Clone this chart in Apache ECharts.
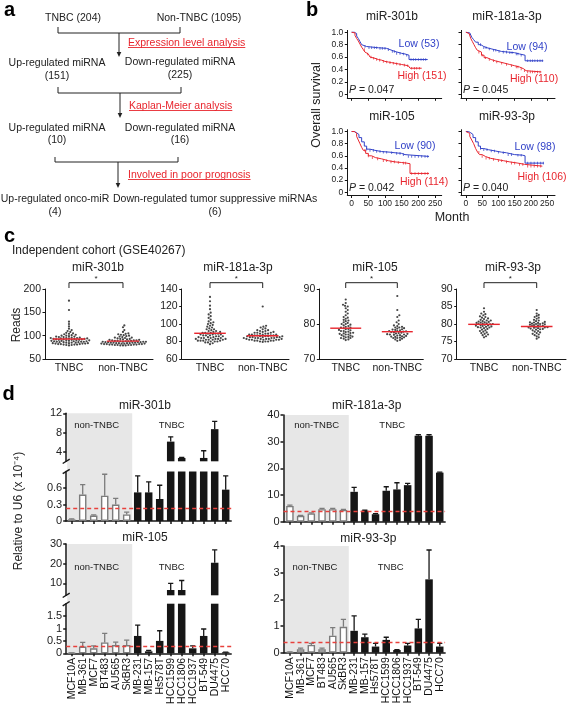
<!DOCTYPE html>
<html><head><meta charset="utf-8">
<script src="https://cdn.jsdelivr.net/npm/echarts@6/dist/echarts.min.js"></script>
<style>html,body{margin:0;padding:0;background:#fff}#c{width:567px;height:704px}</style>
</head><body><div id="c"></div>
<script>
const FONT='"Liberation Sans", Arial, Helvetica, sans-serif';
const BLUE='#3242c8', RED='#e8262e', INK='#161616', GREY='#7c7c7c';

// ---------- panel b : Kaplan-Meier ----------
const kmMonthTicks=[0,50,100,150,200,250];
const kmSurvTicks=[0,0.2,0.4,0.6,0.8,1.0];
const kmTitles=['miR-301b','miR-181a-3p','miR-105','miR-93-3p'];
const kmLowN=[53,94,90,98];
const kmHighN=[151,110,114,106];
const kmP=['0.047','0.045','0.042','0.040'];
const km301bLow=[[0,1],[8,0.98],[15,0.94],[20,0.9],[25,0.85],[30,0.8],[35,0.77],[45,0.75],[80,0.74],[105,0.72],[115,0.69],[130,0.66],[150,0.65],[160,0.63],[172,0.56],[228,0.56]];
const km301bHigh=[[0,1],[5,0.99],[10,0.95],[15,0.9],[20,0.86],[25,0.81],[30,0.76],[35,0.72],[40,0.68],[45,0.65],[50,0.62],[55,0.6],[60,0.58],[70,0.56],[80,0.55],[90,0.53],[100,0.52],[110,0.51],[120,0.5],[130,0.49],[140,0.48],[150,0.47],[160,0.46],[170,0.45],[175,0.42],[210,0.42]];
const km181aLow=[[0,1],[6,0.99],[12,0.96],[18,0.92],[24,0.88],[30,0.84],[38,0.8],[46,0.77],[55,0.75],[65,0.73],[80,0.71],[95,0.69],[110,0.68],[130,0.67],[150,0.65],[165,0.63],[182,0.54],[238,0.54]];
const km181aHigh=[[0,1],[5,0.98],[10,0.95],[15,0.9],[20,0.85],[25,0.8],[30,0.75],[35,0.71],[40,0.68],[48,0.63],[56,0.59],[65,0.56],[78,0.54],[90,0.52],[105,0.5],[120,0.48],[135,0.46],[150,0.44],[165,0.41],[178,0.38],[185,0.36],[232,0.36]];
const km105Low=[[0,1],[8,0.98],[15,0.95],[22,0.9],[30,0.83],[38,0.76],[45,0.71],[55,0.69],[70,0.67],[90,0.66],[115,0.65],[130,0.64],[150,0.62],[160,0.59],[232,0.59]];
const km105High=[[0,1],[8,0.97],[15,0.92],[20,0.86],[25,0.8],[30,0.74],[35,0.69],[42,0.64],[50,0.6],[60,0.57],[72,0.55],[90,0.52],[110,0.5],[130,0.49],[150,0.48],[165,0.47],[175,0.31],[232,0.31]];
const km93Low=[[0,1],[8,0.98],[15,0.95],[22,0.9],[30,0.83],[38,0.76],[45,0.72],[55,0.7],[70,0.68],[90,0.66],[110,0.65],[125,0.62],[150,0.61],[175,0.6],[182,0.48],[240,0.48]];
const km93High=[[0,1],[6,0.97],[12,0.92],[18,0.86],[24,0.8],[30,0.72],[36,0.66],[42,0.62],[50,0.59],[60,0.56],[75,0.54],[95,0.52],[115,0.5],[135,0.48],[160,0.46],[180,0.43],[235,0.43]];
// censoring times (months)
const cens301bLow=[40,52,60,68,75,85,92,100,110,122,128,135,145,155,165,178,185,192,200,208,215,222];
const cens301bHigh=[38,48,58,66,75,84,95,105,115,125,135,145,158,168,180,188,195,203];
const cens181aLow=[45,55,62,72,85,92,102,115,125,135,142,155,160,170,190,198,205,212,220,228,235];
const cens181aHigh=[40,50,60,72,85,95,110,125,140,155,160,170,180,190,198,205,212,220,228];
const cens105Low=[45,55,65,75,85,95,105,120,135,145,155,170,180,190,200,210,220,228];
const cens105High=[40,50,62,78,95,105,118,128,140,155,162,180,190,200,210,220,228];
const cens93Low=[45,55,65,78,88,100,115,130,140,160,170,190,200,210,220,230,238];
const cens93High=[40,50,62,72,85,100,110,125,140,150,165,175,190,200,210,220,230];

// ---------- panel c : dot plots (GSE40267) ----------
const cTitles=['miR-301b','miR-181a-3p','miR-105','miR-93-3p'];
const cGroups=['TNBC','non-TNBC'];
const cYTicks=[[50,100,150,200],[60,80,100,120,140],[70,80,90],[70,75,80,85,90]];
const c301bTNBC=[175,155,130,125,120,115,112,110,108,106,105,104,103,102,101,100,100,99,98,98,97,97,96,96,95,95,95,94,94,94,93,93,93,92,92,92,91,91,91,90,90,90,89,89,89,88,88,88,87,87,87,86,86,86,85,85,85,84,84,84,83,83,83,82,82,82,81,81,81,80,80,79];
const c301bNon=[122,118,112,108,105,104,103,102,101,100,99,98,97,96,96,95,94,93,93,92,92,91,91,90,90,90,89,89,89,88,88,88,87,87,87,87,86,86,86,86,85,85,85,85,84,84,84,84,83,83,83,83,82,82,82,82,81,81,81,81,80,80,80,80,79,79,79];
const c181aTNBC=[131,126,121,117,113,111,109,107,105,103,102,101,100,99,98,97,96,95,94,94,93,92,92,91,91,90,90,90,89,89,89,88,88,88,87,87,87,86,86,86,85,85,85,84,84,84,84,83,83,83,83,82,82,82,82,81,81,81,81,80,80,80,79,79,78,77];
const c181aNon=[120,98,97,96,95,94,93,93,92,92,91,91,90,90,90,89,89,89,88,88,88,88,87,87,87,87,86,86,86,86,86,85,85,85,85,85,84,84,84,84,84,83,83,83,83,83,82,82,82,82,82,81,81,81,81,80,80,80,79.5];
const c105TNBC=[87,86,85.5,85.2,85,84.5,84,83.5,83,82.5,82,81.8,81.5,81.2,81,80.8,80.5,80.3,80,80,79.8,79.6,79.4,79.2,79,79,78.8,78.6,78.5,78.3,78.2,78,78,77.8,77.7,77.5,77.4,77.3,77.2,77,77,76.8,76.7,76.5,76.4,76.3,76.2,76,76,75.8,75.6,75.4];
const c105Non=[88,84,82.5,82,81,80.5,80,79.6,79.4,79.2,79,79,78.8,78.7,78.5,78.4,78.3,78.2,78,78,77.9,77.8,77.7,77.6,77.5,77.4,77.3,77.2,77.1,77,77,76.9,76.8,76.7,76.6,76.5,76.4,76.3,76.2,76.1,76,76,75.8,75.6,75.4,75.2];
const c93TNBC=[84.5,83.5,83,82.8,82.5,82.2,82,81.8,81.6,81.4,81.2,81,81,80.8,80.7,80.6,80.5,80.4,80.3,80.2,80.1,80,80,79.9,79.8,79.7,79.6,79.5,79.4,79.3,79.2,79.1,79,79,78.8,78.6,78.4,78.2,78,77.8,77.6,77.4,77.2,77,76.8,76.5,76.2];
const c93Non=[84,83,82.6,82.3,82,81.8,81.5,81.2,81,80.8,80.6,80.5,80.4,80.3,80.2,80.1,80,80,79.9,79.8,79.7,79.6,79.5,79.4,79.3,79.2,79.1,79,79,78.9,78.8,78.7,78.6,78.5,78.4,78.2,78,77.8,77.6,77.4,77.2,77,76.8,76.5,76.2,75.8];
const cMedians=[[93,88.4],[89.4,86.6],[78.8,77.8],[79.9,79.3]];

// ---------- panel d : qPCR bars ----------
const cellLines=['MCF10A','MB-361','MCF7','BT483','AU565','SkBR3','MB-231','MB-157','Hs578T','HCC1599','HCC1806','HCC1937','BT-549','DU4475','HCC70'];
const nonTNBCLines=['MCF10A','MB-361','MCF7','BT483','AU565','SkBR3'];
const d301bMean=[0.03,0.48,0.10,0.46,0.30,0.12,0.52,0.52,0.40,6.1,2.7,1.5,2.7,8.7,0.57];
const d301bSD=[0.01,0.18,0.01,0.39,0.11,0.04,0.30,0.19,0.25,1.0,0.1,0.1,1.5,1.6,0.25];
const d181aMean=[5.9,2.2,3.1,4.7,4.7,4.4,11.2,4.1,2.8,11.6,12.1,13.7,32.2,32.2,18.4];
const d181aSD=[0.3,0.2,0.2,0.3,0.3,0.2,1.7,0.2,0.2,1.5,2.5,0.7,0.4,0.4,0.2];
const d105Mean=[0.01,0.27,0.20,0.44,0.33,0.33,0.70,0.08,0.50,6.7,6.7,0.20,0.70,20.5,0.04];
const d105SD=[0.005,0.17,0.10,0.36,0.12,0.20,0.44,0.04,0.41,3.3,4.8,0.10,0.28,6.5,0.01];
const d93Mean=[0.02,0.13,0.29,0.13,0.64,0.97,0.82,0.58,0.23,0.48,0.10,0.27,0.91,2.75,0.23];
const d93SD=[0.01,0.04,0.06,0.04,0.30,0.28,0.56,0.12,0.12,0.10,0.01,0.08,0.34,1.1,0.12];
const dThreshold=[0.24,4.1,0.27,0.38];

// ================= layout =================
const chart=echarts.init(document.getElementById('c'),null,{renderer:'canvas'});
const grids=[],xAxes=[],yAxes=[],series=[];
function addGrid(g,xa,ya){const i=grids.length;grids.push(Object.assign({containLabel:false},g));xa.gridIndex=i;ya.gridIndex=i;xAxes.push(xa);yAxes.push(ya);return i;}
function vAxis(o){
  const lw=o.lw||1;
  return {type:'value',min:o.min,max:o.max,show:o.show!==false,
    splitLine:{show:false},
    axisLine:{show:o.line!==false,onZero:false,lineStyle:{color:INK,width:lw}},
    axisTick:{show:o.tick!==false,length:o.tickLen||2.5,customValues:o.ticks,lineStyle:{color:INK,width:lw}},
    axisLabel:{show:o.label!==false,customValues:o.labels||o.ticks,fontSize:o.fs||9,fontFamily:FONT,color:'#222',margin:o.margin||4,
      formatter:o.fmt,showMinLabel:true,showMaxLabel:true,hideOverlap:false}};
}
const survFmt=v=>v===0?'0':v.toFixed(1);
const stepAt=(curve,t)=>{let y=curve[0][1];for(const p of curve){if(p[0]<=t)y=p[1];}return y;};

// panel b grids
const bLay=[
 {left:347.3,top:30.4,width:94.4,height:67.9,xmin:-13,xmax:270,ymin:-0.065,ymax:1.03},
 {left:461,top:30.4,width:94,height:67.9,xmin:-15,xmax:274,ymin:-0.065,ymax:1.03},
 {left:347.3,top:129.7,width:94.4,height:65.8,xmin:-13,xmax:270,ymin:-0.053,ymax:1.03},
 {left:461,top:129.7,width:94,height:65.8,xmin:-15,xmax:274,ymin:-0.053,ymax:1.03}];
const kmData=[[km301bLow,km301bHigh],[km181aLow,km181aHigh],[km105Low,km105High],[km93Low,km93High]];
const kmCens=[[cens301bLow,cens301bHigh],[cens181aLow,cens181aHigh],[cens105Low,cens105High],[cens93Low,cens93High]];
bLay.forEach((L,k)=>{
  const gi=addGrid({left:L.left,top:L.top,width:L.width,height:L.height},
    vAxis({min:L.xmin,max:L.xmax,ticks:kmMonthTicks,label:k>=2,fs:8.5,margin:4}),
    vAxis({min:L.ymin,max:L.ymax,ticks:kmSurvTicks,label:k%2===0,fs:8.5,fmt:survFmt,margin:4}));
  kmData[k].forEach((d,j)=>{
    const col=j?RED:BLUE;
    series.push({type:'line',xAxisIndex:gi,yAxisIndex:gi,data:d,step:'end',symbol:'none',showSymbol:false,silent:true,
      lineStyle:{color:col,width:1},itemStyle:{color:col},z:j?3:2});
    series.push({type:'scatter',xAxisIndex:gi,yAxisIndex:gi,silent:true,symbol:'rect',symbolSize:[0.9,2.6],z:j?3:2,
      itemStyle:{color:col},data:kmCens[k][j].map(t=>[t,stepAt(d,t)])});
  });
});

// panel c grids
const cLay=[
 {left:45,top:289,width:108,height:70,xmin:-0.444,xmax:1.556,ymin:50,ymax:200},
 {left:181.7,top:289,width:107.3,height:70,xmin:-0.537,xmax:1.499,ymin:60,ymax:140},
 {left:319.3,top:289,width:104,height:70,xmin:-0.512,xmax:1.504,ymin:70,ymax:90},
 {left:456.7,top:289,width:109.3,height:70,xmin:-0.518,xmax:1.556,ymin:70,ymax:90}];
const cData=[[c301bTNBC,c301bNon],[c181aTNBC,c181aNon],[c105TNBC,c105Non],[c93TNBC,c93Non]];
function swarm(values,center,ppuX,ppuY,d){
  const s=values.slice().sort((a,b)=>a-b),placed=[],out=[];
  for(const v of s){
    const py=v*ppuY;let best=0;
    for(let k=0;k<400;k++){
      const off=k===0?0:(k%2?1:-1)*Math.ceil(k/2)*d*0.3;
      let ok=true;
      for(const p of placed){const dx=p[0]-off,dy=p[1]-py;if(dx*dx+dy*dy<d*d){ok=false;break;}}
      if(ok){best=off;break;}
    }
    placed.push([best,py]);out.push([center+best/ppuX,v]);
  }
  return out;
}
const cGridIdx=[];
cLay.forEach((L,k)=>{
  const gi=addGrid({left:L.left,top:L.top,width:L.width,height:L.height},
    vAxis({min:L.xmin,max:L.xmax,ticks:[0,1],tick:false,fs:10.5,margin:4,fmt:v=>cGroups[v]}),
    vAxis({min:L.ymin,max:L.ymax,ticks:cYTicks[k],fs:10.5,margin:4}));
  cGridIdx.push(gi);
  const ppuX=L.width/(L.xmax-L.xmin),ppuY=L.height/(L.ymax-L.ymin);
  cData[k].forEach((vals,j)=>series.push({type:'scatter',xAxisIndex:gi,yAxisIndex:gi,symbolSize:2.2,silent:true,
    itemStyle:{color:INK},data:swarm(vals,j,ppuX,ppuY,2.25)}));
  series.push({type:'custom',xAxisIndex:gi,yAxisIndex:gi,silent:true,z:5,data:cMedians[k].map((m,j)=>[j,m]),
    renderItem:(p,api)=>{const a=api.coord([api.value(0)-0.3,api.value(1)]),b=api.coord([api.value(0)+0.3,api.value(1)]);
      return {type:'line',shape:{x1:a[0],y1:a[1],x2:b[0],y2:b[1]},style:{stroke:RED,lineWidth:1.4}};}});
});

// panel d grids
const idx=cellLines.map((_,i)=>i);
const dL={left:66.2,width:165,xmin:-0.5,xmax:14.5};
const dR={left:283.5,width:161.6,xmin:-0.6,xmax:14.5};
const dLay=[
 {col:dL,top:413.3,height:48,ymin:2,ymax:12,ticks:[4,8,12],mean:d301bMean,sd:d301bSD,xaxis:'none'},
 {col:dL,top:471.5,height:49.5,ymin:0,ymax:0.9,ticks:[0,0.3,0.6],mean:d301bMean,sd:d301bSD,xaxis:'ticks',thr:dThreshold[0]},
 {col:dR,top:415,height:106.7,ymin:0,ymax:40,ticks:[0,10,20,30,40],mean:d181aMean,sd:d181aSD,xaxis:'ticks',thr:dThreshold[1]},
 {col:dL,top:544,height:51.3,ymin:4,ymax:30,ticks:[10,20,30],mean:d105Mean,sd:d105SD,xaxis:'none'},
 {col:dL,top:603.7,height:49.6,ymin:0,ymax:2,ticks:[0,0.5,1,1.5],mean:d105Mean,sd:d105SD,xaxis:'labels',thr:dThreshold[2]},
 {col:dR,top:546,height:106.7,ymin:0,ymax:4,ticks:[0,1,2,3,4],mean:d93Mean,sd:d93SD,xaxis:'labels',thr:dThreshold[3]}];
const isNon=i=>nonTNBCLines.indexOf(cellLines[i])>=0;
const dGridIdx=[];
dLay.forEach((L,k)=>{
  const C=L.col;
  const xa=vAxis({min:C.xmin,max:C.xmax,ticks:idx,lw:1.5,tickLen:3,show:L.xaxis!=='none',label:false});
  const ya=vAxis({min:L.ymin,max:L.ymax,ticks:L.ticks,lw:1.5,tickLen:3,fs:11,margin:4});
  const gi=addGrid({left:C.left,top:L.top,width:C.width,height:L.height},xa,ya);
  dGridIdx.push(gi);
  const bar={type:'bar',xAxisIndex:gi,yAxisIndex:gi,barWidth:7.5,silent:true,clip:true,z:2,
    data:L.mean.map((m,i)=>({value:[i,m],itemStyle:isNon(i)?{color:'#fff',borderColor:GREY,borderWidth:1.4}:{color:INK}}))};
  if(L.thr!==undefined){bar.markLine={silent:true,symbol:'none',label:{show:false},animation:false,
    lineStyle:{color:'#e8413c',type:[4,3],width:1.3},data:[{yAxis:L.thr}]};}
  series.push(bar);
  series.push({type:'custom',xAxisIndex:gi,yAxisIndex:gi,clip:true,silent:true,z:3,
    data:L.mean.map((m,i)=>[i,m,L.sd[i]]),
    renderItem:(p,api)=>{const i=api.value(0),m=api.value(1),s=api.value(2);
      const a=api.coord([i,m]),b=api.coord([i,m+s]);const col=isNon(i)?GREY:INK;
      return {type:'group',children:[
        {type:'line',shape:{x1:a[0],y1:a[1],x2:b[0],y2:b[1]},style:{stroke:col,lineWidth:1.3}},
        {type:'line',shape:{x1:b[0]-2.6,y1:b[1],x2:b[0]+2.6,y2:b[1]},style:{stroke:col,lineWidth:1.3}}]};}});
});

chart.setOption({animation:false,grid:grids,xAxis:xAxes,yAxis:yAxes,series:series});

// ================= annotations =================
const G=[];
function txt(x,y,t,o){o=o||{};G.push({type:'text',x:x,y:y,rotation:o.rot||0,z:10,silent:true,
  style:{text:t,x:0,y:0,fontSize:o.fs||10.5,fontFamily:FONT,fontWeight:o.fw||'normal',fill:o.color||'#222',
  align:o.align||'center',verticalAlign:'middle',rich:o.rich}});}
function ln(x1,y1,x2,y2,o){o=o||{};G.push({type:'line',z:o.z||10,silent:true,shape:{x1,y1,x2,y2},style:{stroke:o.color||'#222',lineWidth:o.lw||1}});}
function arrow(x,y1,y2){ln(x,y1,x,y2-4);G.push({type:'polygon',z:10,silent:true,shape:{points:[[x-2.3,y2-5],[x+2.3,y2-5],[x,y2]]},style:{fill:'#222'}});}
const mctx=document.createElement('canvas').getContext('2d');
function redU(x,y,t){txt(x,y,t,{align:'left',color:RED});mctx.font='10.5px "Liberation Sans", Arial';const w=mctx.measureText(t).width;ln(x,y+4.5,x+w,y+4.5,{color:RED,lw:0.9});}

// panel letters
[['a',9.5,10],['b',312,10],['c',9.5,236],['d',8.5,394]].forEach(a=>txt(a[1],a[2],a[0],{fs:20,fw:'bold',color:'#000'}));

// panel a flow chart
txt(73,18,'TNBC (204)');txt(199,18,'Non-TNBC (1095)');
ln(58,27,58,33);ln(180,27,180,33);ln(58,33,180,33);arrow(119,33,57);
redU(128,43,'Expression level analysis');
txt(57,63,'Up-regulated miRNA');txt(57,76,'(151)');
txt(180,62,'Down-regulated miRNA');txt(180,75,'(225)');
ln(58,87,58,93);ln(181,87,181,93);ln(58,93,181,93);arrow(120,93,118);
redU(129,106,'Kaplan-Meier analysis');
txt(57,128,'Up-regulated miRNA');txt(57,140,'(10)');
txt(180,128,'Down-regulated miRNA');txt(180,140,'(16)');
ln(55,157,55,162);ln(178,157,178,162);ln(55,162,178,162);arrow(118,162,188);
redU(128,175,'Involved in poor prognosis');
txt(55,199,'Up-regulated onco-miR');txt(55,212,'(4)');
txt(113,199,'Down-regulated tumor suppressive miRNAs',{align:'left'});txt(215,212,'(6)');

// panel b texts
const bTitlePos=[[392,17],[507,17],[392,117],[507,117]];
const bLowPos=[[419,44],[527,47],[415,146],[535,147]];
const bHighPos=[[422,76],[534,79],[424,182],[542,177]];
const bPPos=[[349,90],[463,90],[349,188],[463,188]];
for(let k=0;k<4;k++){
  txt(bTitlePos[k][0],bTitlePos[k][1],kmTitles[k],{fs:12});
  txt(bLowPos[k][0],bLowPos[k][1],'Low ('+kmLowN[k]+')',{color:BLUE});
  txt(bHighPos[k][0],bHighPos[k][1],'High ('+kmHighN[k]+')',{color:RED});
  txt(bPPos[k][0],bPPos[k][1],'{i|P} = '+kmP[k],{align:'left',rich:{i:{fontStyle:'italic',fontSize:10.5,fontFamily:FONT,fill:'#222'}}});
}
txt(317,105,'Overall survival',{fs:12.5,rot:Math.PI/2});
txt(452,218,'Month',{fs:12.5});

// panel c texts
txt(12,251,'Independent cohort (GSE40267)',{align:'left',fs:12});
txt(17,325,'Reads',{fs:12,rot:Math.PI/2});
const cTitleX=[98,238,375,513];
cGridIdx.forEach((gi,k)=>{
  txt(cTitleX[k],268,cTitles[k],{fs:12});
  const p0=chart.convertToPixel({gridIndex:gi},[0,cLay[k].ymax]);
  const p1=chart.convertToPixel({gridIndex:gi},[1,cLay[k].ymax]);
  ln(p0[0],282.7,p1[0],282.7);ln(p0[0],282.7,p0[0],288);ln(p1[0],282.7,p1[0],288);
  txt((p0[0]+p1[0])/2,279,'*',{fs:8});
});

// panel d texts, shading, breaks, category labels
const dTitles=[['miR-301b',145,405.7],['miR-181a-3p',366.7,405.7],['miR-105',145,537.3],['miR-93-3p',368.3,539]];
dTitles.forEach(t=>txt(t[1],t[2],t[0],{fs:12}));
const dGroupText=[[96.7,171.7,425.7],[316.7,392.3,425.7],[96.7,171.7,567.3],[315,390.7,567.3]];
dGroupText.forEach(t=>{txt(t[0],t[2],'non-TNBC',{fs:9.5});txt(t[1],t[2],'TNBC',{fs:9.5});});
txt(18.3,511,'Relative to U6 (x 10⁻⁴)',{fs:12,rot:Math.PI/2});
[[0,1],[2,2],[3,4],[5,5]].forEach(pr=>{
  const gu=dGridIdx[pr[0]],gl=dGridIdx[pr[1]],Lu=dLay[pr[0]],Ll=dLay[pr[1]];
  const a=chart.convertToPixel({gridIndex:gu},[Lu.col.xmin,Lu.ymax]);
  const b=chart.convertToPixel({gridIndex:gl},[nonTNBCLines.length-0.5,Ll.ymin]);
  G.push({type:'rect',z:-5,silent:true,shape:{x:a[0]+1,y:a[1],width:b[0]-a[0]-1,height:b[1]-a[1]},style:{fill:'#e7e7e7'}});
});
[[0,'bottom'],[1,'top'],[3,'bottom'],[4,'top']].forEach(bm=>{
  const L=dLay[bm[0]],gi=dGridIdx[bm[0]];
  const p=chart.convertToPixel({gridIndex:gi},[L.col.xmin,bm[1]==='top'?L.ymax:L.ymin]);
  ln(p[0]-3.5,p[1]+2.2,p[0]+3.5,p[1]-2.2,{lw:1.4,color:INK});
});
dLay.forEach((L,k)=>{
  if(L.xaxis!=='labels')return;
  cellLines.forEach((name,i)=>{
    const p=chart.convertToPixel({gridIndex:dGridIdx[k]},[i,L.ymin]);
    txt(p[0],p[1]+4.5,name,{fs:10.5,rot:Math.PI/2,align:'right',color:'#111'});
  });
});

chart.setOption({graphic:{elements:G}});
</script></body></html>
